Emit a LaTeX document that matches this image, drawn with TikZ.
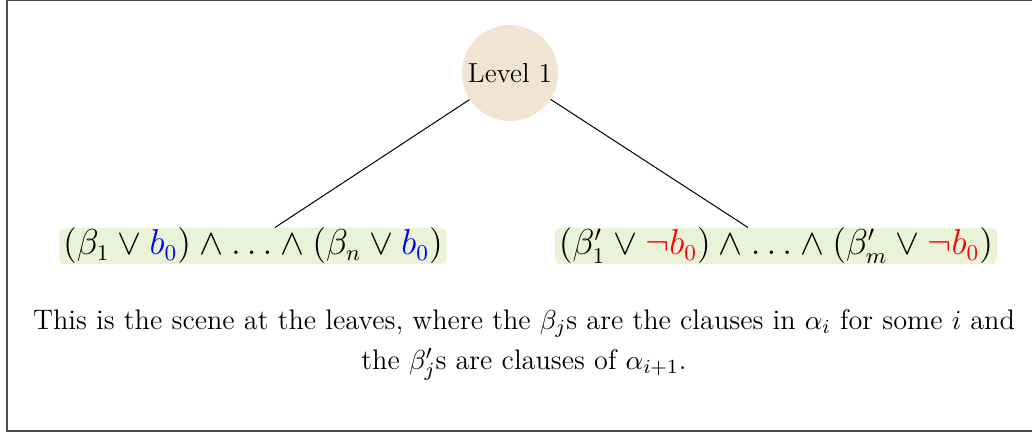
\documentclass[tikz,border=0pt]{standalone}
\usepackage{amsmath, amssymb}
\usepackage{tikz}
\usetikzlibrary{positioning, calc}
\usepackage{xcolor}
\definecolor{levelfill}{RGB}{242,228,211}
\definecolor{leaffill}{RGB}{234,243,215}

\begin{document}
\begin{tikzpicture}[
  x=0.4pt, y=-0.4pt,
  level/.style={circle, fill=levelfill, minimum size=38.4pt, inner sep=0pt, font=\fontsize{11}{13}\selectfont},
  leaf/.style={rounded corners=2pt, fill=leaffill, minimum height=13.2pt, inner xsep=1.5pt, inner ysep=0pt, font=\fontsize{13.4}{15}\selectfont},
  edge/.style={black, line width=0.4pt}
]
\useasboundingbox (0,0) rectangle (1032,432);
\draw[gray!60!black, line width=0.8pt] (6.5,0.5) rectangle (1040,431);

\node[level] (lvl) at (510,73) {Level 1};

\node[leaf] (leafA) at (253,246) {$(\beta_1 \vee \textcolor{blue}{b_0}) \wedge \ldots \wedge (\beta_n \vee \textcolor{blue}{b_0})$};
\node[leaf] (leafB) at (776,246) {$(\beta'_1 \vee \textcolor{red}{\neg b_0}) \wedge \ldots \wedge (\beta'_m \vee \textcolor{red}{\neg b_0})$};

\node[align=center, font=\fontsize{11.3}{16}\selectfont] (note) at (524,345) {This is the scene at the leaves, where the $\beta_j$s are the clauses in $\alpha_i$ for some $i$ and\\the $\beta'_j$s are clauses of $\alpha_{i+1}$.};

\draw[edge] (lvl) -- ([xshift=8.8pt]leafA.north);
\draw[edge] (lvl) -- ([xshift=-11.2pt]leafB.north);
\end{tikzpicture}
\end{document}
